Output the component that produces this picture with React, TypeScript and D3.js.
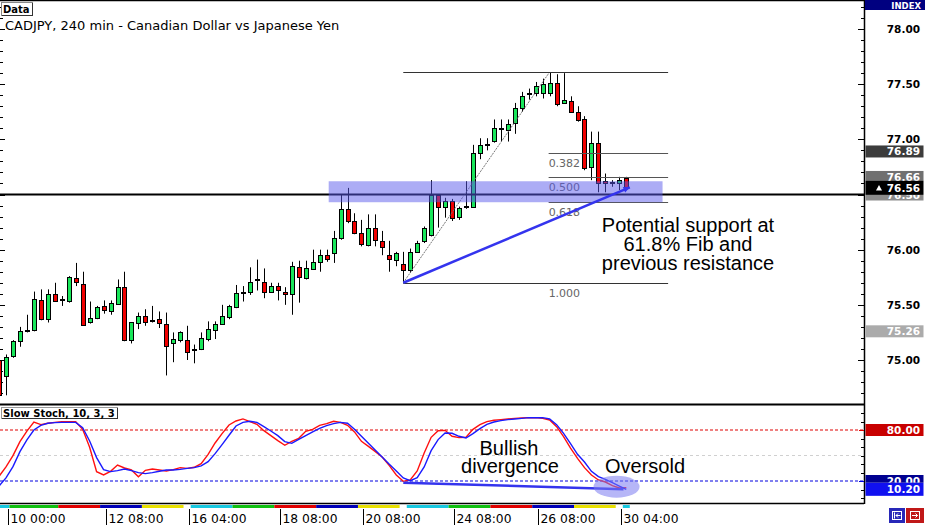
import * as d3 from 'd3'

// CADJPY 240 min bars, bar index -1 .. 89
const FIRST_BAR = -1
const opens = [
  75.0, 74.86, 75.03, 75.17, 75.26, 75.27, 75.54, 75.37, 75.6, 75.54, 75.53, 75.74, 75.69, 75.34, 75.38, 75.49, 75.45,
  75.51, 75.66, 75.18, 75.34, 75.4, 75.36, 75.37, 75.33, 75.15, 75.18, 75.18, 75.09, 75.1, 75.19, 75.28, 75.33,
  75.39, 75.48, 75.61, 75.62, 75.73, 75.71, 75.62, 75.67, 75.62, 75.6, 75.84, 75.74, 75.83, 75.89, 75.95, 75.97,
  76.11, 76.37, 76.26, 76.15, 76.05, 76.2, 76.08, 75.95, 75.91, 75.87, 75.82, 75.98, 76.08, 76.14, 76.5, 76.39,
  76.44, 76.3, 76.39, 76.39, 76.88, 76.95, 76.98, 77.1, 77.09, 77.14, 77.28, 77.41, 77.42, 77.42, 77.42, 77.51,
  77.33, 77.35, 77.25, 77.18, 76.75, 76.97, 76.62, 76.61, 76.6, 76.65,
]
const highs = [
  75.0, 75.05, 75.18, 75.3, 75.41, 75.62, 75.64, 75.64, 75.7, 75.58, 75.76, 75.88, 75.8, 75.53, 75.49, 75.54, 75.54,
  75.73, 75.8, 75.34, 75.43, 75.46, 75.49, 75.44, 75.43, 75.25, 75.26, 75.31, 75.14, 75.25, 75.35, 75.35, 75.5,
  75.5, 75.68, 75.67, 75.84, 75.91, 75.83, 75.7, 75.7, 75.66, 75.89, 75.9, 75.9, 76.0, 76.0, 76.0, 76.17,
  76.5, 76.56, 76.33, 76.27, 76.32, 76.32, 76.17, 76.08, 75.98, 75.98, 76.01, 76.08, 76.21, 76.63, 76.5, 76.47,
  76.46, 76.39, 76.62, 76.95, 77.01, 77.01, 77.18, 77.18, 77.18, 77.33, 77.43, 77.46, 77.52, 77.55, 77.61, 77.59,
  77.6, 77.39, 77.3, 77.21, 77.07, 77.07, 76.69, 76.63, 76.66, 76.66,
]
const lows = [
  74.66, 74.68, 75.02, 75.12, 75.25, 75.26, 75.36, 75.34, 75.53, 75.49, 75.52, 75.67, 75.32, 75.33, 75.37, 75.42, 75.41,
  75.51, 75.17, 75.15, 75.28, 75.31, 75.34, 75.29, 74.86, 74.98, 75.16, 75.0, 74.97, 75.09, 75.17, 75.19, 75.32,
  75.37, 75.47, 75.53, 75.59, 75.63, 75.56, 75.61, 75.54, 75.5, 75.41, 75.52, 75.73, 75.82, 75.8, 75.89, 75.88,
  76.09, 76.24, 76.14, 76.03, 76.03, 76.03, 75.95, 75.8, 75.85, 75.7, 75.79, 75.97, 76.06, 76.12, 76.2, 76.29,
  76.26, 76.27, 76.37, 76.38, 76.82, 76.9, 76.97, 76.98, 76.98, 77.05, 77.25, 77.36, 77.39, 77.37, 77.39, 77.3,
  77.33, 77.24, 77.16, 76.72, 76.63, 76.52, 76.52, 76.57, 76.54, 76.56,
]
const closes = [
  74.68, 75.03, 75.17, 75.26, 75.27, 75.55, 75.37, 75.6, 75.54, 75.55, 75.75, 75.7, 75.32, 75.38, 75.48, 75.45, 75.52,
  75.66, 75.18, 75.34, 75.4, 75.35, 75.36, 75.33, 75.13, 75.19, 75.25, 75.07, 75.1, 75.2, 75.28, 75.33, 75.4,
  75.49, 75.61, 75.62, 75.71, 75.72, 75.62, 75.67, 75.63, 75.6, 75.85, 75.75, 75.83, 75.89, 75.95, 75.91, 76.11,
  76.37, 76.26, 76.15, 76.05, 76.2, 76.09, 76.03, 75.91, 75.97, 75.82, 75.98, 76.06, 76.2, 76.5, 76.39, 76.44,
  76.29, 76.38, 76.4, 76.88, 76.95, 76.96, 77.1, 77.1, 77.14, 77.28, 77.39, 77.42, 77.48, 77.5, 77.51, 77.32,
  77.36, 77.25, 77.18, 76.74, 76.97, 76.61, 76.6, 76.61, 76.63, 76.57,
]

// Slow Stoch 10,3,3 (red = main, blue = signal)
const stochK = [
  25.5, 36.5, 49.8, 66.3, 78.7, 89.4, 86.3, 87.9, 89.0, 89.8, 89.8, 89.8, 80.8, 59.6, 31.0, 27.1, 31.4,
  38.8, 35.3, 33.0, 25.1, 32.6, 34.1, 33.0, 31.8, 33.4, 35.7, 34.9, 36.1, 40.4, 51.4, 64.7, 75.7,
  85.9, 90.6, 93.0, 89.8, 86.7, 79.2, 73.4, 67.5, 62.0, 66.7, 70.2, 78.5, 80.8, 85.5, 87.5, 90.2,
  89.0, 85.5, 77.7, 66.7, 60.8, 54.5, 47.9, 38.1, 27.1, 19.6, 21.2, 31.8, 53.0, 71.4, 79.2, 79.6,
  72.6, 71.0, 71.4, 80.8, 86.3, 89.8, 91.4, 92.2, 93.0, 93.7, 94.1, 94.5, 94.5, 93.7, 91.8, 83.9,
  72.2, 58.8, 46.7, 35.7, 27.1, 21.2, 18.8, 14.5, 11.8, 12.2,
]
const stochD = [
  14.1, 23.6, 36.9, 54.5, 68.3, 80.0, 85.5, 87.9, 88.7, 89.0, 89.0, 89.0, 82.8, 67.1, 47.5, 33.4, 31.0,
  32.2, 34.1, 32.2, 29.8, 28.7, 29.8, 31.4, 33.0, 33.0, 33.7, 34.9, 35.7, 37.7, 42.8, 52.2, 62.8,
  73.8, 84.7, 89.0, 90.2, 89.0, 83.9, 78.8, 73.4, 66.3, 64.3, 69.0, 73.4, 77.7, 82.0, 85.1, 87.5,
  89.0, 87.9, 80.8, 72.6, 64.3, 56.1, 47.9, 39.6, 31.8, 23.6, 20.4, 23.9, 36.5, 55.7, 68.7, 76.5,
  76.1, 72.6, 70.6, 75.7, 81.6, 86.7, 89.4, 91.0, 92.2, 93.0, 93.7, 94.5, 94.5, 94.5, 93.0, 86.3,
  76.1, 63.9, 51.4, 42.4, 31.4, 25.1, 22.0, 18.1, 14.1, 10.2,
]

const timeLabels = ['10 00:00', '12 08:00', '16 04:00', '18 08:00', '20 08:00', '24 08:00', '26 08:00', '30 04:00']
const timeLabelBars = [0, 14, 26, 39, 51, 64, 76, 88]

// day separator strip under the stochastic window
const dayBreaks = [-1.5, 0.5, 7.5, 13.5, 19.5, 25.5, 26.5, 32.5, 38.5, 44.5, 50.5, 56.5, 57.5, 63.5, 69.5, 75.5, 81.5, 87.5, 88.5, 89.5]
const dayColors = ['#18c8e0', '#10c010', '#e00000', '#0000b8', '#e8e000', '#ffffff', '#18c8e0', '#10c010', '#e00000', '#0000b8', '#e8e000', '#ffffff', '#18c8e0', '#10c010', '#e00000', '#0000b8', '#e8e000', '#ffffff', '#18c8e0']

// fibonacci retracement
const fibHigh = 77.61
const fibLow = 75.7
const fibLowBar = 57
const fibHighBar = 78
const fibEndBar = 95
const fibLevels = [0, 0.382, 0.5, 0.618, 1]
const fibLabels = ['', '0.382', '0.500', '0.618', '1.000']

const supportLevel = 76.5
const bandLow = 76.43
const bandHigh = 76.62
const bandBars = [46.3, 94.2]

const priceLabels = [75, 75.5, 76, 77, 77.5, 78]
const priceTags = [
  { v: 76.89, bg: '#3c3c3c' },
  { v: 76.66, bg: '#707070' },
  { v: 76.5, bg: '#8c8c8c' },
  { v: 76.56, bg: '#000000' },
  { v: 75.26, bg: '#ababab' },
]
const stochTags = [
  { v: 80, label: '80.00', bg: '#c80000' },
  { v: 20, label: '20.00', bg: '#000090' },
  { v: 10.2, label: '10.20', bg: '#1010f0' },
]

const W = 925
const H = 525
const AX = 864 // right axis line
const FONT = 'DejaVu Sans, Verdana, sans-serif'
const ARIAL = 'Liberation Sans, Arial, sans-serif'

export default function App() {
  const x = d3.scaleLinear().domain([0, 89]).range([6, 626.3])
  const yP = d3.scaleLinear().domain([75, 78]).range([360, 29])
  const yS = d3.scaleLinear().domain([20, 80]).range([481, 430])
  const px = (i: number) => Math.round(x(i)) + 0.5

  const bars = opens.map((o, k) => ({ i: k + FIRST_BAR, o, h: highs[k], l: lows[k], c: closes[k] }))
  const stochLine = d3
    .line<number>()
    .x((_, k) => x(k + FIRST_BAR))
    .y((d) => yS(d))

  const priceTicks = d3.range(746, 783).map((d) => d / 10)
  const fibY = (lv: number) => yP(fibHigh - lv * (fibHigh - fibLow))
  const isMajor = (v: number) => Math.abs(v * 2 - Math.round(v * 2)) < 1e-6

  // support trendline
  const tl = { x1: x(fibLowBar), y1: yP(fibLow), x2: x(89.5), y2: yP(76.565) }
  const ang = Math.atan2(tl.y2 - tl.y1, tl.x2 - tl.x1)
  const ah = 7
  const arrow = [
    [tl.x2, tl.y2],
    [tl.x2 - ah * Math.cos(ang - 0.45), tl.y2 - ah * Math.sin(ang - 0.45)],
    [tl.x2 - ah * Math.cos(ang + 0.45), tl.y2 - ah * Math.sin(ang + 0.45)],
  ]

  // tags drawn later cover earlier ones; clip the hidden parts of covered tags
  const tagY = (v: number) => yP(v)
  const lastTag = yP(76.56)

  return (
    <svg width={W} height={H} style={{ position: 'absolute', left: 0, top: 0, background: '#fff' }}>
      <defs>
        <clipPath id="clip7650">
          <rect x={AX} y={lastTag + 7} width={W - AX} height={10} />
        </clipPath>
        <clipPath id="clip7666">
          <rect x={AX} y={tagY(76.66) - 6} width={W - AX} height={lastTag - 7 - (tagY(76.66) - 6)} />
        </clipPath>
        <clipPath id="clip2000">
          <rect x={AX} y={yS(20) - 6} width={W - AX} height={yS(10.2) - 6.5 - (yS(20) - 6)} />
        </clipPath>
      </defs>
      <rect x={0} y={0} width={W} height={H} fill="#fff" />

      {/* left edge ticks */}
      {priceTicks.map((v) => (
        <line key={'lt' + v} x1={0} x2={isMajor(v) ? 5 : 3} y1={Math.round(yP(v)) + 0.5} y2={Math.round(yP(v)) + 0.5} stroke="#000" />
      ))}

      {/* candles */}
      {bars.map((b) => {
        const cx = px(b.i)
        const top = yP(Math.max(b.o, b.c))
        const bot = yP(Math.min(b.o, b.c))
        return (
          <g key={'c' + b.i}>
            <line x1={cx} x2={cx} y1={yP(b.h)} y2={yP(b.l)} stroke="#000" strokeWidth={1} />
            <rect
              x={cx - 2}
              y={Math.round(top) + 0.5}
              width={4}
              height={Math.max(1, Math.round(bot - top))}
              fill={b.c >= b.o ? '#19e65a' : '#f00000'}
              stroke="#000"
              strokeWidth={1}
            />
          </g>
        )
      })}

      {/* horizontal level */}
      <line x1={0} x2={AX} y1={yP(supportLevel)} y2={yP(supportLevel)} stroke="#000" strokeWidth={2} />

      {/* fibonacci */}
      <line x1={x(fibLowBar)} y1={yP(fibLow)} x2={x(fibHighBar)} y2={yP(fibHigh)} stroke="#777" strokeWidth={1} strokeDasharray="2,1" />
      {fibLevels.map((lv, k) => {
        const y = Math.round(fibY(lv)) + 0.5
        const from = lv === 0 || lv === 1 ? x(fibLowBar) : x(fibHighBar) - 1
        return (
          <g key={'f' + lv}>
            <line x1={from} x2={x(fibEndBar)} y1={y} y2={y} stroke={lv === 0 || lv === 1 ? '#333' : '#555'} strokeWidth={1} />
            {fibLabels[k] && (
              <text x={x(fibHighBar) - 1} y={y + 13} fontFamily={FONT} fontSize={11} fill="#666">
                {fibLabels[k]}
              </text>
            )}
          </g>
        )
      })}

      {/* support / resistance band */}
      <rect
        x={x(bandBars[0])}
        y={yP(bandHigh)}
        width={x(bandBars[1]) - x(bandBars[0])}
        height={yP(bandLow) - yP(bandHigh)}
        fill="#5a5aeb"
        opacity={0.5}
      />

      {/* trend line */}
      <line x1={tl.x1} y1={tl.y1} x2={tl.x2} y2={tl.y2} stroke="#3434ee" strokeWidth={2.5} />
      <polygon points={arrow.map((p) => p.join(',')).join(' ')} fill="#3434ee" />

      <text textAnchor="middle" fontFamily={ARIAL} fontSize={20} fill="#000">
        <tspan x={688} y={232}>Potential support at</tspan>
        <tspan x={688} y={251}>61.8% Fib and</tspan>
        <tspan x={688} y={270}>previous resistance</tspan>
      </text>

      {/* title */}
      <text x={5} y={30} fontFamily={FONT} fontSize={13} fill="#000">
        CADJPY, 240 min - Canadian Dollar vs Japanese Yen
      </text>
      <rect x={1.5} y={2.5} width={31} height={13} fill="#fff" stroke="#888" />
      <line x1={2} x2={33} y1={15.5} y2={15.5} stroke="#333" />
      <line x1={32.5} x2={32.5} y1={3} y2={16} stroke="#333" />
      <text x={3} y={13} fontFamily={FONT} fontSize={10} fontWeight="bold" fill="#000">Data</text>

      {/* stochastic window */}
      <line x1={0} x2={AX} y1={yS(50)} y2={yS(50)} stroke="#d0d0d0" strokeDasharray="3,3" />
      <line x1={0} x2={AX} y1={yS(80)} y2={yS(80)} stroke="#e00000" strokeWidth={1.2} strokeDasharray="3,2" />
      <line x1={0} x2={AX} y1={yS(20)} y2={yS(20)} stroke="#0000e0" strokeWidth={1.2} strokeDasharray="3,2" />
      <path d={stochLine(stochK) || ''} fill="none" stroke="#ff1010" strokeWidth={1.4} />
      <path d={stochLine(stochD) || ''} fill="none" stroke="#1a1aff" strokeWidth={1.4} />
      <line x1={x(fibLowBar)} y1={yS(18)} x2={x(88.6)} y2={yS(10.4)} stroke="#3434ee" strokeWidth={2.5} />
      <ellipse cx={x(87.6)} cy={yS(13.3)} rx={23} ry={11} fill="#7a7af0" opacity={0.55} />
      <text textAnchor="middle" fontFamily={ARIAL} fontSize={20} fill="#000">
        <tspan x={509} y={455}>Bullish</tspan>
        <tspan x={510} y={473}>divergence</tspan>
      </text>
      <text x={605} y={473} fontFamily={ARIAL} fontSize={20} fill="#000">Oversold</text>

      <rect x={1.5} y={407.5} width={116} height={11} fill="#fff" stroke="#999" />
      <line x1={2} x2={118} y1={418.5} y2={418.5} stroke="#333" />
      <line x1={117.5} x2={117.5} y1={408} y2={419} stroke="#333" />
      <text x={3} y={417} fontFamily={FONT} fontSize={10} fontWeight="bold" fill="#000">Slow Stoch, 10, 3, 3</text>

      {/* window frames */}
      <line x1={0} x2={W} y1={0.5} y2={0.5} stroke="#000" strokeWidth={1.5} />
      <line x1={0} x2={AX} y1={404.5} y2={404.5} stroke="#000" strokeWidth={2} />
      <line x1={0} x2={AX} y1={503.5} y2={503.5} stroke="#000" strokeWidth={1.5} />
      <line x1={AX + 0.5} x2={AX + 0.5} y1={0} y2={504} stroke="#000" strokeWidth={1.5} />

      {/* day strip */}
      {dayColors.map((c, k) => (
        <rect key={'d' + k} x={Math.max(0, x(dayBreaks[k]))} y={505} width={x(dayBreaks[k + 1]) - Math.max(0, x(dayBreaks[k]))} height={3} fill={c} />
      ))}

      {/* time axis */}
      {timeLabels.map((t, k) => {
        const tx = Math.round(x(timeLabelBars[k])) + 2.5
        return (
          <g key={'t' + k}>
            <line x1={tx} x2={tx} y1={509} y2={525} stroke="#000" />
            <text x={tx + 2} y={523} fontFamily={FONT} fontSize={13} textLength={55} lengthAdjust="spacingAndGlyphs" fill="#000">
              {t}
            </text>
          </g>
        )
      })}

      {/* price axis */}
      {priceTicks.map((v) => {
        const y = Math.round(yP(v)) + 0.5
        return <line key={'pt' + v} x1={isMajor(v) ? AX - 6 : AX - 3} x2={AX} y1={y} y2={y} stroke="#000" />
      })}
      {priceLabels.map((v) => (
        <text key={'pl' + v} x={920} y={yP(v) + 4} textAnchor="end" fontFamily={FONT} fontSize={10.5} fontWeight="bold" fill="#000">
          {v.toFixed(2)}
        </text>
      ))}
      {priceTags.map((t) => {
        const y = tagY(t.v)
        const tall = t.v === 76.56
        const clip = t.v === 76.5 ? 'url(#clip7650)' : t.v === 76.66 ? 'url(#clip7666)' : undefined
        return (
          <g key={'tag' + t.v} clipPath={clip}>
            <rect x={AX + 1.5} y={y - (tall ? 7 : 6)} width={W - AX - 3} height={tall ? 14 : 12} fill={t.bg} />
            {tall && <path d={`M ${876} ${y + 2.5} L ${879} ${y - 3} L ${882} ${y + 2.5} Z`} fill="#fff" />}
            <text x={920} y={y + 4} textAnchor="end" fontFamily={FONT} fontSize={10.5} fontWeight="bold" fill="#fff">
              {t.v.toFixed(2)}
            </text>
          </g>
        )
      })}

      {/* stochastic axis */}
      {d3.range(0, 101, 10).map((v) => (
        <line key={'st' + v} x1={AX - (v === 80 || v === 20 ? 5 : 3)} x2={AX} y1={Math.round(yS(v)) + 0.5} y2={Math.round(yS(v)) + 0.5} stroke={v === 80 ? '#e00000' : v === 20 ? '#0000e0' : '#000'} />
      ))}
      {stochTags.map((t) => {
        const y = yS(t.v)
        const hh = t.v === 10.2 ? 13 : 12
        return (
          <g key={'stag' + t.v} clipPath={t.v === 20 ? 'url(#clip2000)' : undefined}>
            <rect x={AX + 1.5} y={y - hh / 2} width={W - AX - 3} height={hh} fill={t.bg} />
            <text x={920} y={y + 4} textAnchor="end" fontFamily={FONT} fontSize={10.5} fontWeight="bold" fill="#fff">
              {t.label}
            </text>
          </g>
        )
      })}

      {/* header + scroll buttons */}
      <rect x={AX + 1} y={0} width={W - AX - 1} height={10} fill="#000080" />
      <text x={921} y={8.5} textAnchor="end" fontFamily={FONT} fontSize={8.5} fontWeight="bold" fill="#fff">INDEX</text>
      <rect x={889} y={508} width={16} height={15} fill="#2828b8" />
      <rect x={892.5} y={511.5} width={9} height={8} fill="none" stroke="#fff" />
      <path d="M 894.5 512.5 L 894.5 518.5 M 896 515.5 L 900.5 515.5 M 896 515.5 L 898 513.5 M 896 515.5 L 898 517.5" stroke="#fff" fill="none" />
      <rect x={906} y={508} width={18} height={15} fill="#c01818" />
      <rect x={910.5} y={511.5} width={9} height={8} fill="none" stroke="#fff" />
      <path d="M 912 515.5 L 917.5 515.5 M 917.5 515.5 L 915.5 513.5 M 917.5 515.5 L 915.5 517.5" stroke="#fff" fill="none" />
    </svg>
  )
}
